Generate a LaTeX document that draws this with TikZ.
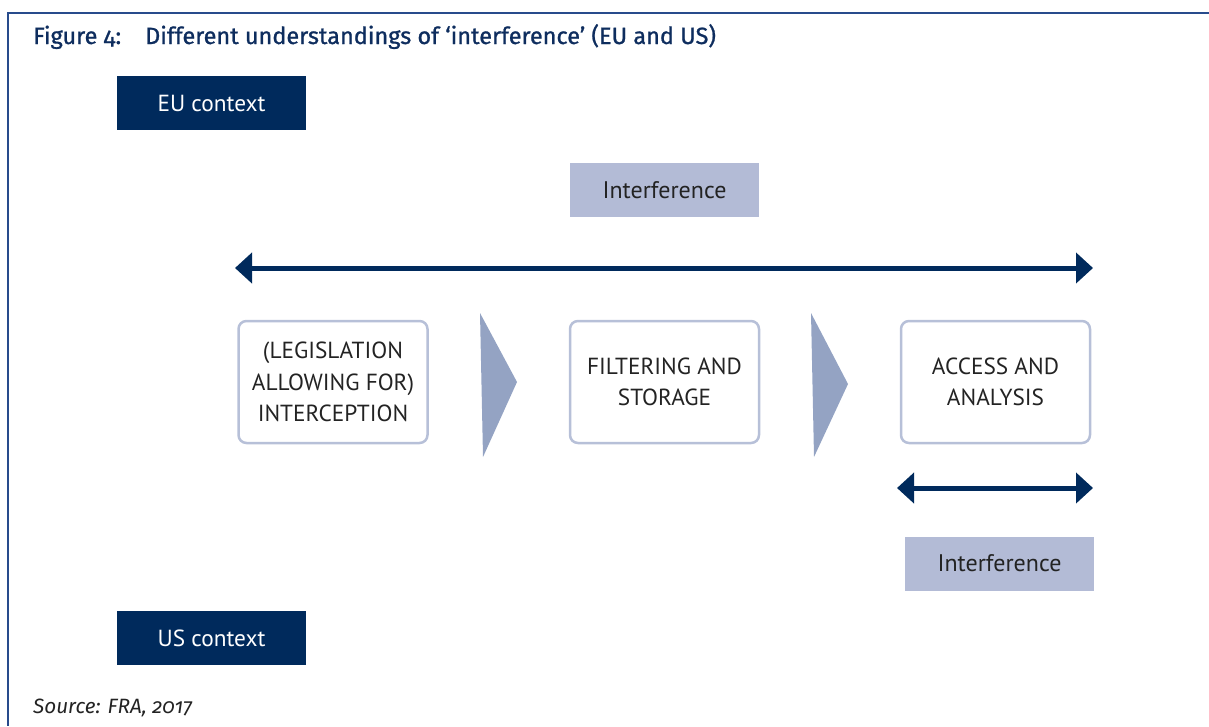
\documentclass[tikz,border=0pt]{standalone}
\usepackage{fontspec}
\setmainfont{PT Sans}
\newfontfamily\firafont{Fira Sans}[Numbers=OldStyle]
\newfontfamily\firatitle{Fira Sans}[Numbers=OldStyle, FakeBold=1]
\usetikzlibrary{arrows.meta}
\definecolor{navy}{RGB}{0,42,92}
\definecolor{titleblue}{RGB}{14,45,94}
\definecolor{frameblue}{RGB}{40,75,140}
\definecolor{lightbox}{RGB}{179,187,214}
\definecolor{chevron}{RGB}{148,163,195}
\definecolor{boxline}{RGB}{183,192,216}
\definecolor{textgray}{RGB}{35,35,35}
\tikzset{
  context/.style={fill=navy, text=white, minimum width=189pt, minimum height=54pt, inner sep=0pt, font=\fontsize{23.3}{27}\selectfont},
  interf/.style={fill=lightbox, text=textgray, minimum width=189pt, minimum height=54pt, inner sep=0pt, font=\fontsize{24}{28}\selectfont},
  stage/.style={draw=boxline, line width=2.5pt, rounded corners=8pt, fill=white, text=textgray, minimum width=189pt, minimum height=122pt, inner sep=0pt, align=center, font=\fontsize{23.3}{31.5}\selectfont},
  span/.style={draw=navy, line width=5pt, {Triangle[length=17pt,width=30pt]}-{Triangle[length=17pt,width=30pt]}},
  chev/.style={fill=chevron}
}
\begin{document}
\begin{tikzpicture}[x=1pt,y=-1pt]
\useasboundingbox (0,0) rectangle (1209,726);
% frame
\draw[frameblue, line width=2pt] (1209,13) -- (8,13) -- (8,726);
% title
\node[anchor=base west, inner sep=0pt, text=titleblue, font=\firatitle\fontsize{23.5}{27}\selectfont] (title) at (33,44) {\makebox[112pt][l]{Figure 4:}Different understandings of ‘interference’ (EU and US)};
% context boxes
\node[context] (eu) at (211.5,103) {EU context};
\node[context] (us) at (211.5,638) {US context};
% interference labels
\node[interf] (inttop) at (664.5,190) {Interference};
\node[interf] (intbot) at (999.5,563.5) {Interference};
% arrows
\coordinate (eul) at (235,268);
\coordinate (eur) at (1093,268);
\coordinate (usl) at (897,488);
\coordinate (usr) at (1093,488);
\draw[span] (eul) -- (eur);
\draw[span] (usl) -- (usr);
% stages
\node[stage] (s1) at (333,382) {(LEGISLATION\\ALLOWING FOR)\\INTERCEPTION};
\node[stage] (s2) at (664.5,382) {FILTERING AND\\STORAGE};
\node[stage] (s3) at (995.5,382) {ACCESS AND\\ANALYSIS};
% chevrons
\fill[chev] (480,313) -- (517,382) -- (483,457) -- cycle;
\fill[chev] (811,313) -- (848,384) -- (814,457) -- cycle;
% source
\node[anchor=base west, inner sep=0pt, text=textgray, font=\firafont\fontsize{20.7}{24}\selectfont\itshape] (src) at (33,713) {Source: FRA, 2017};
\end{tikzpicture}
\end{document}
